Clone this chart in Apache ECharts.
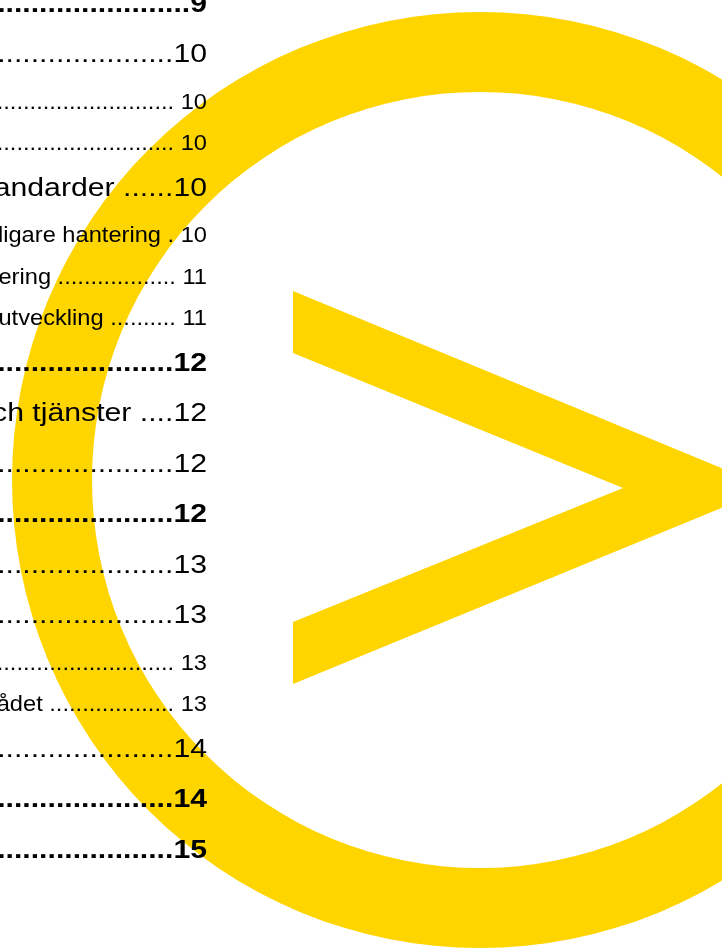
<!DOCTYPE html>
<html><head><meta charset="utf-8">
<script src="https://cdn.jsdelivr.net/npm/echarts@6/dist/echarts.min.js"></script>
<style>html,body{margin:0;padding:0;background:#fff;overflow:hidden}#c{width:722px;height:948px}</style>
</head><body><div id="c"></div>
<script>
// Table-of-contents fragments (left part is cut off by the page edge)
const tocTitles = ['', '', '', '', 'Standarder ', 'tydligare hantering ', 'Digitalisering ', 'Kompetensutveckling ', '', 'Produkter och tjänster ', '', '', '', '', '', 'Inom området ', '', '', ''];
const tocPages = ['9', '10', '10', '10', '10', '10', '11', '11', '12', '12', '12', '12', '13', '13', '13', '13', '14', '14', '15'];
const tocLevels = [1, 2, 3, 3, 2, 3, 3, 3, 1, 2, 2, 1, 2, 2, 3, 3, 2, 1, 1];
const tocLeaders = [60, 60, 60, 60, 6, 1, 18, 10, 60, 4, 60, 60, 60, 60, 60, 19, 60, 60, 60];

// Logo shape: ring + chevron (page coordinates)
const ringCenter = [480, 480];
const ringRadii = [388, 468];
const chevronX = [293, 770, 293, 293, 623, 293];
const chevronY = [291, 488, 684, 622, 488, 353];

const YELLOW = '#FFD500';
const FONT = '"Liberation Sans", Arial, sans-serif';
const levelStyle = {
  1: { weight: 'bold', size: 26.5, lh: 50.5, sep: '', sx: 1.14 },
  2: { weight: 'normal', size: 26.5, lh: 50.5, sep: '', sx: 1.14 },
  3: { weight: 'normal', size: 21.5, lh: 41.5, sep: ' ', sx: 1.10 }
};
const TEXT_RIGHT = 207;
const FIRST_BASELINE = 13.5;

const baselines = [];
tocLevels.forEach((lv, i) => {
  if (i === 0) baselines.push(FIRST_BASELINE);
  else baselines.push(baselines[i - 1] + (levelStyle[tocLevels[i - 1]].lh + levelStyle[lv].lh) / 2);
});

const tocData = tocPages.map((p, i) => [TEXT_RIGHT, baselines[i], i]);

const chart = echarts.init(document.getElementById('c'), null, { renderer: 'canvas' });
chart.setOption({
  backgroundColor: '#ffffff',
  animation: false,
  grid: { left: 0, right: 0, top: 0, bottom: 0 },
  xAxis: { type: 'value', min: 0, max: 722, show: false },
  yAxis: { type: 'value', min: 0, max: 948, inverse: true, show: false },
  series: [
    {
      type: 'pie',
      silent: true,
      z: 1,
      center: ringCenter,
      radius: ringRadii,
      label: { show: false },
      labelLine: { show: false },
      itemStyle: { color: YELLOW, borderWidth: 0 },
      emphasis: { disabled: true },
      data: [{ value: 1, name: 'ring' }]
    },
    {
      type: 'custom',
      silent: true,
      z: 2,
      data: [[0, 0]],
      renderItem: function (params, api) {
        const pts = chevronX.map((x, k) => api.coord([x, chevronY[k]]));
        return { type: 'polygon', shape: { points: pts }, style: { fill: YELLOW } };
      }
    },
    {
      type: 'custom',
      silent: true,
      z: 5,
      data: tocData,
      renderItem: function (params, api) {
        const i = api.value(2);
        const st = levelStyle[tocLevels[i]];
        const pt = api.coord([api.value(0), api.value(1)]);
        const text = tocTitles[i] + '.'.repeat(tocLeaders[i]) + st.sep + tocPages[i];
        return {
          type: 'text',
          x: pt[0],
          y: pt[1] - 0.34 * st.size,
          scaleX: st.sx,
          style: {
            text: text,
            fill: '#000000',
            font: st.weight + ' ' + st.size + 'px ' + FONT,
            align: 'right',
            verticalAlign: 'middle'
          }
        };
      }
    }
  ]
});
</script>
</body></html>
